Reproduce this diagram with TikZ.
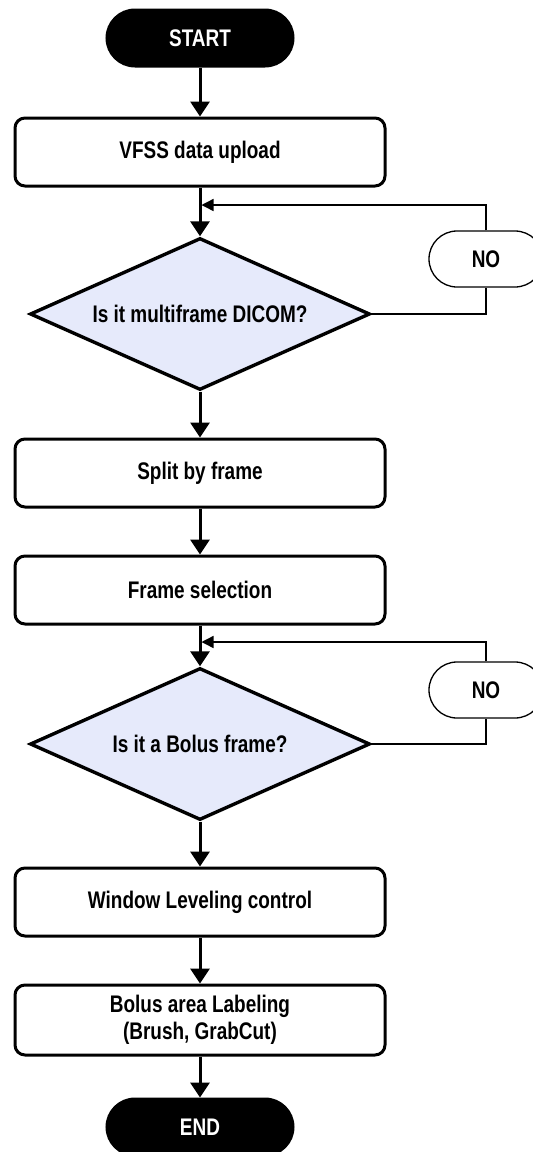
\documentclass[tikz,border=0pt]{standalone}
\usepackage{fontspec}
\setmainfont{Liberation Sans}[FakeStretch=0.79]
\usepackage{tikz}
\usetikzlibrary{arrows.meta}
\usetikzlibrary{shapes.geometric}
\definecolor{decfill}{HTML}{E6EAFB}
\tikzset{
    terminal/.style={draw=black, fill=black, text=white, rectangle, rounded corners=14pt,
        minimum width=93pt, minimum height=28pt, inner sep=0pt},
    process/.style={draw=black, fill=white, rectangle, rounded corners=5pt,
        minimum width=185pt, minimum height=34pt, align=center, inner sep=0pt},
    decision/.style={draw=black, fill=decfill, diamond, aspect=2.24, line width=1.7pt,
        minimum width=170pt, minimum height=76pt, inner sep=0pt},
    nolabel/.style={draw=black, fill=white, rectangle, rounded corners=14pt, line width=0.65pt,
        minimum width=57pt, minimum height=28pt, inner sep=0pt},
    flow/.style={draw=black, line width=1.5pt, -{Triangle[width=9.5pt,length=7.5pt]}},
    loopline/.style={draw=black, line width=0.7pt},
    looparrow/.style={draw=black, line width=0.7pt, -{Triangle[width=6pt,length=6pt]}},
}

\begin{document}
\begin{tikzpicture}[x=0.5pt, y=0.5pt, line width=1.5pt,
    font=\fontsize{12}{13.6}\selectfont\bfseries]
\useasboundingbox (0,0) rectangle (533,-1152);

%TOP
\node [terminal] (start) at (200,-38) {START};
\node [process] (upload) at (200,-152) {VFSS data upload};
\coordinate (merge1) at (200,-205);
\node [decision] (dicom) at (200,-314) {Is it multiframe DICOM?};
\node [nolabel] (no1) at (486,-259) {NO};

%MIDDLE
\node [process] (split) at (200,-473) {Split by frame};
\node [process] (select) at (200,-590) {Frame selection};
\coordinate (merge2) at (200,-642);
\node [decision] (bolus) at (200,-744) {Is it a Bolus frame?};
\node [nolabel] (no2) at (486,-690) {NO};

%BOTTOM
\node [process] (window) at (200,-902) {Window Leveling control};
\node [process, minimum height=35pt] (label) at (200,-1020) {Bolus area Labeling\\(Brush, GrabCut)};
\node [terminal] (end) at (200,-1127) {END};

%ARROWS
\draw [flow] (start) -- (upload);
\draw [flow] (upload) -- (dicom);
\draw [flow] (dicom) -- (split);
\draw [flow] (split) -- (select);
\draw [flow] (select) -- (bolus);
\draw [flow] (bolus) -- (window);
\draw [flow] (window) -- (label);
\draw [flow] (label) -- (end);

%LOOPS
\draw [loopline] (dicom.east) -| (no1.south);
\draw [looparrow, shorten >=0.75pt] (no1.north) |- (merge1);
\draw [loopline] (bolus.east) -| (no2.south);
\draw [looparrow, shorten >=0.75pt] (no2.north) |- (merge2);
\end{tikzpicture}
\end{document}
